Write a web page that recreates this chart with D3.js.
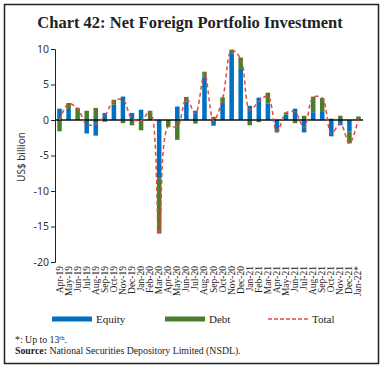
<!DOCTYPE html>
<html>
<head>
<meta charset="utf-8">
<script src="https://cdn.jsdelivr.net/npm/d3@7"></script>
<style>
  body { margin: 0; background: #fff; }
  svg { display: block; }
</style>
</head>
<body>
<div id="chart"></div>
<script>
const months = ["Apr-19", "May-19", "Jun-19", "Jul-19", "Aug-19", "Sep-19", "Oct-19", "Nov-19", "Dec-19",
    "Jan-20", "Feb-20", "Mar-20", "Apr-20", "May-20", "Jun-20", "Jul-20", "Aug-20", "Sep-20", "Oct-20",
    "Nov-20", "Dec-20", "Jan-21", "Feb-21", "Mar-21", "Apr-21", "May-21", "Jun-21", "Jul-21", "Aug-21",
    "Sep-21", "Oct-21", "Nov-21", "Dec-21", "Jan-22*"];
const equity = [1.6, 1.55, 0, -1.9, -2.2, 1.0, 2.15, 3.3, 1.0, 1.45, 0, -8.2, 0, 1.9, 2.6, 1.3, 6.15, -0.8,
    2.4, 9.4, 7.2, 2.0, 3.15, 2.3, -1.25, 0.75, 1.6, -1.75, 1.1, 1.25, -2.3, -0.75, -1.6, 0.05];
const debt = [-1.6, 0.85, 1.7, 1.3, 1.7, -0.25, 0.7, -0.45, -0.75, -1.45, 1.3, -7.8, -1.0, -2.8, 0.65, -0.5,
    0.65, 0.45, 0.8, 0.5, 1.6, -0.75, -0.3, 1.55, -0.5, 0.3, -0.45, 0.6, 2.2, 1.85, 0.2, 0.6, -1.7, 0.45];
const total = [0, 2.3, 1.6, -0.6, -0.6, 0.6, 2.7, 2.85, 0.15, -0.1, 1.2, -16.1, -0.95, -0.95, 3.0, 0.9,
    6.6, -0.1, 3.0, 9.8, 8.6, 1.4, 2.6, 3.4, -1.7, 1.0, 1.1, -1.1, 3.2, 3.1, -1.9, -0.5, -3.3, 0.2];
const yTicks = [-20, -15, -10, -5, 0, 5, 10];

const width = 384, height = 369;
const colors = { equity: "#0070c0", debt: "#4a7e2f", total: "#e8473d" };

const svg = d3.select("#chart").append("svg")
    .attr("width", width)
    .attr("height", height);

// outer frame
svg.append("rect")
    .attr("x", 4.5).attr("y", 4.5)
    .attr("width", 374).attr("height", 359)
    .attr("fill", "none")
    .attr("stroke", "#222")
    .attr("stroke-width", 1.5);

svg.append("text")
    .attr("x", 190).attr("y", 28)
    .attr("text-anchor", "middle")
    .style("font-family", "Liberation Serif")
    .style("font-weight", "bold")
    .style("font-size", "16.5px")
    .attr("fill", "#222")
    .text("Chart 42: Net Foreign Portfolio Investment");

const x = d3.scaleBand()
    .domain(months)
    .range([55, 363])
    .paddingInner(0.5)
    .paddingOuter(0.25);

const y = d3.scaleLinear()
    .domain([-20, 10])
    .range([262, 49]);

const rows = months.map((m, i) => ({ month: m, equity: equity[i], debt: debt[i], total: total[i] }));

const stack = d3.stack()
    .keys(["equity", "debt"])
    .offset(d3.stackOffsetDiverging);

const layers = stack(rows);

svg.append("g")
    .selectAll("g")
    .data(layers)
    .join("g")
    .attr("fill", d => colors[d.key])
    .selectAll("rect")
    .data(d => d)
    .join("rect")
    .attr("x", d => x(d.data.month))
    .attr("width", x.bandwidth())
    .attr("y", d => y(Math.max(d[0], d[1])))
    .attr("height", d => Math.abs(y(d[0]) - y(d[1])));

// y axis
const yAxis = svg.append("g")
    .attr("transform", "translate(55,0)")
    .call(d3.axisLeft(y).tickValues(yTicks).tickSize(4).tickFormat(d => d));
yAxis.select(".domain").attr("stroke", "#222");
yAxis.selectAll(".tick line").attr("stroke", "#222");
yAxis.selectAll("text")
    .style("font-family", "Noto Sans")
    .style("font-size", "10.5px")
    .attr("fill", "#333")
    .attr("x", -6);

// zero line
svg.append("line")
    .attr("x1", 55).attr("x2", 363)
    .attr("y1", y(0)).attr("y2", y(0))
    .attr("stroke", "#111")
    .attr("stroke-width", 1.5);

// total line (smoothed like the original)
const line = d3.line()
    .x(d => x(d.month) + x.bandwidth() / 2)
    .y(d => y(d.total))
    .curve(d3.curveCatmullRom.alpha(0.5));

svg.append("path")
    .datum(rows)
    .attr("d", line)
    .attr("fill", "none")
    .attr("stroke", colors.total)
    .attr("stroke-width", 1.5)
    .attr("stroke-dasharray", "4,3");

// x labels
svg.append("g")
    .selectAll("text")
    .data(months)
    .join("text")
    .attr("transform", d => `translate(${x(d) + x.bandwidth() / 2 + 3},266) rotate(-90)`)
    .attr("text-anchor", "end")
    .style("font-family", "Liberation Serif")
    .style("font-size", "9.5px")
    .attr("fill", "#222")
    .text(d => d);

svg.append("text")
    .attr("transform", "translate(25,157) rotate(-90)")
    .attr("text-anchor", "middle")
    .style("font-family", "Noto Sans")
    .style("font-size", "10px")
    .attr("fill", "#333")
    .text("US$ billion");

// legend
const legend = svg.append("g");
const items = [
    { label: "Equity", key: "equity", x: 52 },
    { label: "Debt", key: "debt", x: 165 },
    { label: "Total", key: "total", x: 268 }
];
items.forEach(it => {
    if (it.key === "total") {
        legend.append("line")
            .attr("x1", it.x).attr("x2", it.x + 40)
            .attr("y1", 319).attr("y2", 319)
            .attr("stroke", colors.total)
            .attr("stroke-width", 1.5)
            .attr("stroke-dasharray", "4,2");
    } else {
        legend.append("rect")
            .attr("x", it.x).attr("y", 316.5)
            .attr("width", 40).attr("height", 5)
            .attr("fill", colors[it.key]);
    }
    legend.append("text")
        .attr("x", it.x + 44).attr("y", 323)
        .style("font-family", "Liberation Serif")
        .style("font-size", "11px")
        .attr("fill", "#222")
        .text(it.label);
});

// footnotes
const note = svg.append("text")
    .attr("x", 15).attr("y", 343)
    .style("font-family", "Liberation Serif")
    .style("font-size", "9.8px")
    .attr("fill", "#222");
note.append("tspan").text("*: Up to 13");
note.append("tspan").attr("dy", -3.5).style("font-size", "6.5px").text("th");
note.append("tspan").attr("dy", 3.5).text(".");

const src = svg.append("text")
    .attr("x", 15).attr("y", 354)
    .style("font-family", "Liberation Serif")
    .style("font-size", "9.8px")
    .attr("fill", "#222");
src.append("tspan").style("font-weight", "bold").text("Source: ");
src.append("tspan").text("National Securities Depository Limited (NSDL).");
</script>
</body>
</html>
